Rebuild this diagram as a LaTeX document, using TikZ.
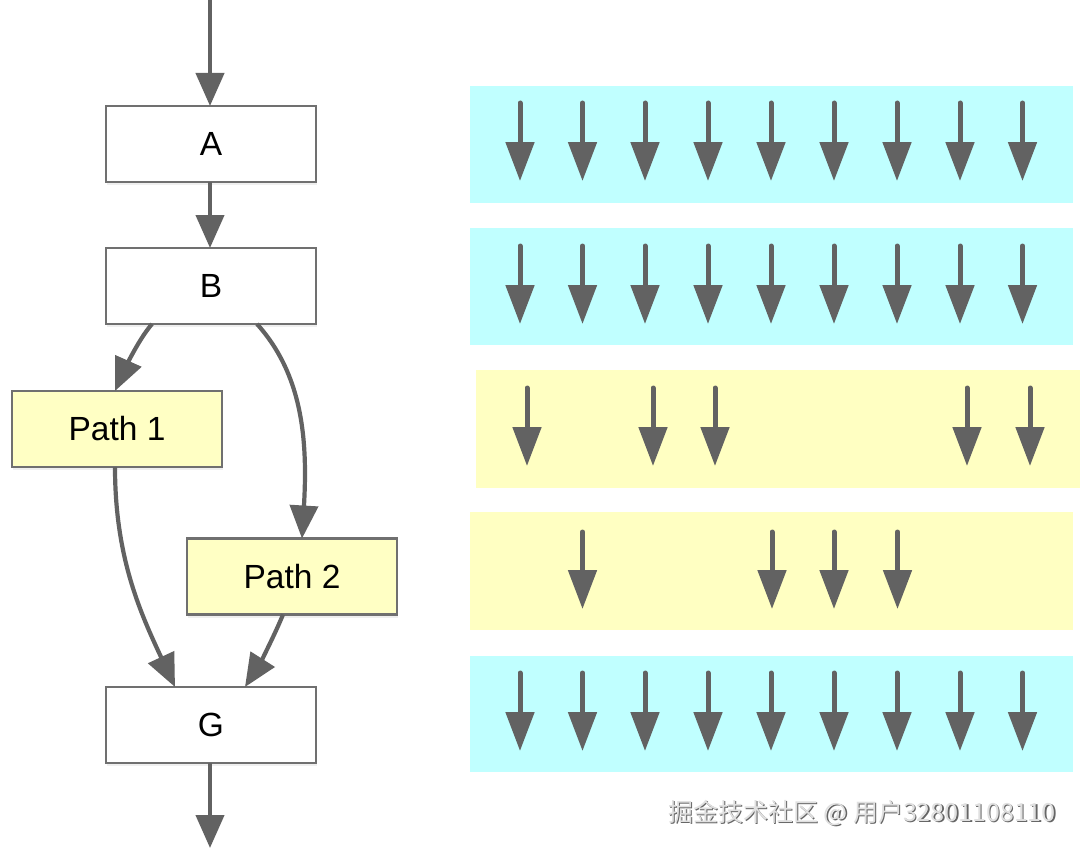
\documentclass[tikz,border=0pt]{standalone}
\usepackage{fontspec}
\setmainfont{Liberation Sans}
\newfontfamily\cjk{Noto Sans CJK SC}
\usetikzlibrary{arrows.meta,shadows,calc}
\definecolor{arrowgray}{RGB}{98,98,98}
\definecolor{boxborder}{RGB}{112,112,112}
\definecolor{cyanband}{RGB}{192,255,255}
\definecolor{yellowband}{RGB}{255,255,194}
\definecolor{pathfill}{RGB}{255,255,196}
\begin{document}
\begin{tikzpicture}[x=1pt,y=-1pt,
 flowbox/.style={draw=boxborder, line width=2.7pt, fill=white, minimum width=210pt, minimum height=76pt, inner sep=0pt, outer sep=0pt, font=\fontsize{33.5}{40}\selectfont, drop shadow={opacity=0.12, shadow xshift=1pt, shadow yshift=-3pt}},
 pathbox/.style={flowbox, fill=pathfill},
 flow/.style={draw=arrowgray, line width=4.2pt, -{Triangle[length=33pt,width=28pt]}},
 bandarrow/.style={draw=arrowgray, line width=5pt, line cap=round, -{Triangle[length=39pt,width=28pt]}},
 cyanstrip/.style={fill=cyanband},
 yellowstrip/.style={fill=yellowband},
 wmtext/.style={anchor=west, inner sep=0pt, font=\cjk\fontsize{25}{30}\selectfont},
]
\fill[white] (0,0) rectangle (1080,851);
\useasboundingbox (0,0) rectangle (1080,851);

% left flow
\node[flowbox] (A) at (211,144) {A};
\node[flowbox] (B) at (211,286) {B};
\node[pathbox] (P1) at (117,429) {Path 1};
\node[pathbox] (P2) at (292,576.5) {Path 2};
\node[flowbox] (G) at (211,725) {G};
\coordinate (in) at (210,0);
\coordinate (out) at (210,848);

\draw[flow] (in) -- ([xshift=-1pt]A.north);
\draw[flow] ([xshift=-1pt]A.south) -- ([xshift=-1pt]B.north);
\draw[flow] ([xshift=-1pt]G.south) -- (out);
\draw[flow] ([xshift=-59pt]B.south) .. controls +(-14,16) and +(8,-18) .. ([xshift=-2pt]P1.north);
\draw[flow] ([xshift=46pt]B.south) .. controls +(45,50) and +(6,-100) .. ([xshift=10pt]P2.north);
\draw[flow] ([xshift=-2pt]P1.south) .. controls +(0,90) and +(-35,-75) .. ([xshift=-36pt]G.north);
\draw[flow] ([xshift=-9pt]P2.south) .. controls +(-8,20) and +(14,-22) .. ([xshift=34pt]G.north);

% right strips
\fill[cyanstrip] (470,86) rectangle (1073,203);
\fill[cyanstrip] (470,228) rectangle (1073,345);
\fill[yellowstrip] (476,370) rectangle (1080,488);
\fill[yellowstrip] (470,512) rectangle (1073,630);
\fill[cyanstrip] (470,656) rectangle (1073,772);

\foreach \x in {520,582.5,645,708,771,834,897,960,1022.5}{
  \draw[bandarrow] (\x,103) -- (\x,181);
  \draw[bandarrow] (\x,246) -- (\x,324);
  \draw[bandarrow] (\x,673) -- (\x,751);
}
\foreach \x in {527,653,715,967,1030}{
  \draw[bandarrow] (\x,388) -- (\x,466);
}
\foreach \x in {582.5,772,834,897.5}{
  \draw[bandarrow] (\x,532) -- (\x,609);
}

% watermark
\node[wmtext, text=black!60] (wmshadow) at (669.5,814.5) {掘金技术社区 @ 用户32801108110};
\node[wmtext, text=black!12] (wm) at (668,813) {掘金技术社区 @ 用户32801108110};
\end{tikzpicture}
\end{document}
